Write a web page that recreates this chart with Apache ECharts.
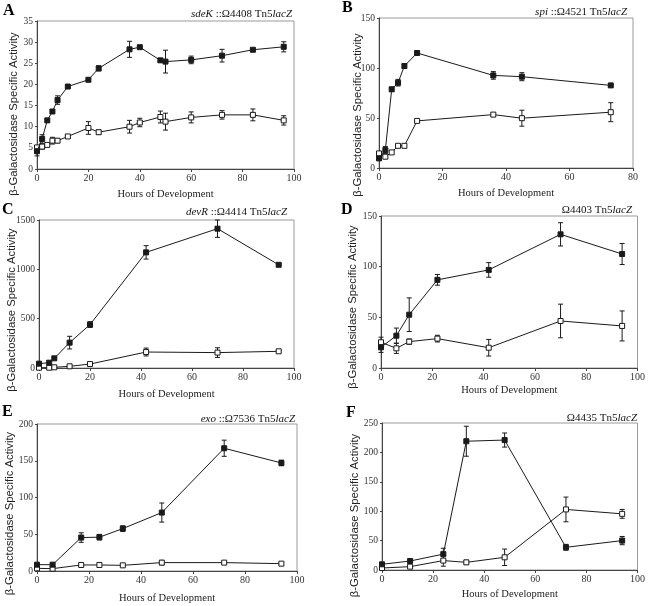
<!DOCTYPE html>
<html>
<head>
<meta charset="utf-8">
<script src="https://cdn.jsdelivr.net/npm/echarts@6/dist/echarts.min.js"></script>
<style>
  html, body { margin: 0; padding: 0; background: #fff; }
  #chart { width: 648px; height: 606px; }
</style>
</head>
<body>
<div id="chart"></div>
<script>
// Panel A  sdeK
const hoursA = [0, 2, 4, 6, 8, 12, 20, 24, 36, 40, 48, 50, 60, 72, 84, 96];
const filledA = [4.2, 7.1, 11.5, 13.6, 16.3, 19.5, 21.1, 23.8, 28.3, 28.8, 25.7, 25.4, 25.8, 26.8, 28.2, 28.9];
const filledErrA = [1.1, 1, 0.3, 0.4, 1, 0.3, 0.3, 0.6, 1.9, 0.3, 0.4, 2.7, 0.9, 1.5, 0.3, 1.2];
const openA = [5.1, 5.3, 5.7, 6.7, 6.7, 7.7, 9.7, 8.7, 10.0, 11.0, 12.3, 11.2, 12.2, 12.8, 12.8, 11.5];
const openErrA = [0.3, 0.6, 0.3, 0.8, 0.5, 0.3, 1.5, 0.5, 1.5, 1, 1.4, 2, 1.3, 1, 1.4, 1.1];

// Panel B  spi
const hoursB = [0, 2, 4, 6, 8, 12, 36, 45, 73];
const filledB = [9.6, 17.9, 78.7, 85.3, 102, 115, 92.6, 91.3, 82.6];
const filledErrB = [0, 3.5, 2, 3.3, 2, 1.8, 3.8, 4, 1];
const openB = [14.6, 11.3, 15.6, 22.2, 22.2, 47.1, 53.4, 49.8, 55.8];
const openErrB = [0, 0, 0, 0, 0, 0.5, 0.5, 8, 9.5];

// Panel C  devR
const hoursC = [0, 4, 6, 12, 20, 42, 70, 94];
const filledC = [44, 54, 98, 257, 440, 1172, 1412, 1046];
const filledErrC = [0, 0, 10, 64, 29, 68, 88, 10];
const openC = [3, 3, 7, 17, 40, 162, 156, 169];
const openErrC = [0, 0, 0, 0, 0, 40, 49, 10];

// Panel D  4403
const hoursD = [0, 6, 11, 22, 42, 70, 94];
const filledD = [20.4, 31.9, 52.6, 87, 96.8, 131.9, 112.5];
const filledErrD = [5, 7.5, 16.6, 5.3, 7.2, 11.5, 10.4];
const openD = [25.4, 19.4, 26, 29, 20, 46.4, 41.5];
const openErrD = [5, 5, 2.6, 3.3, 8.2, 16.6, 14.8];

// Panel E  exo
const hoursE = [0, 6, 17, 24, 33, 48, 72, 94];
const filledE = [8.6, 8.6, 45.5, 46, 57.7, 79.5, 167, 147];
const filledErrE = [0, 0, 6.5, 3.8, 3.8, 13, 11, 3.8];
const openE = [3.6, 3.2, 8.2, 8.2, 7.7, 11.4, 11.4, 10];
const openErrE = [0, 0, 0, 0, 0, 3, 1, 1];

// Panel F  4435
const hoursF = [0, 11, 24, 33, 48, 72, 94];
const filledF = [9.7, 15.3, 27, 219, 221, 38.6, 50];
const filledErrF = [0, 0, 10, 25.5, 12, 5, 7];
const openF = [3.4, 5.7, 16, 13, 21.6, 103, 95.5];
const openErrF = [0, 0, 9.5, 3.5, 14, 21, 7.5];

const letters = ['A', 'B', 'C', 'D', 'E', 'F'];
const subtitles = [
  '{i|sdeK} ::Ω4408 Tn5{i|lacZ}',
  '{i|spi} ::Ω4521 Tn5{i|lacZ}',
  '{i|devR} ::Ω4414 Tn5{i|lacZ}',
  'Ω4403 Tn5{i|lacZ}',
  '{i|exo} ::Ω7536 Tn5{i|lacZ}',
  'Ω4435 Tn5{i|lacZ}'
];
const yMax = [35, 150, 1500, 150, 200, 250];
const yStep = [5, 50, 500, 50, 50, 50];
const xMax = [100, 80, 100, 100, 100, 100];

const panels = [
  [hoursA, filledA, filledErrA, openA, openErrA],
  [hoursB, filledB, filledErrB, openB, openErrB],
  [hoursC, filledC, filledErrC, openC, openErrC],
  [hoursD, filledD, filledErrD, openD, openErrD],
  [hoursE, filledE, filledErrE, openE, openErrE],
  [hoursF, filledF, filledErrF, openF, openErrF]
];

// layout: grid box, letter pos, subtitle right/y, x-name gap, y-name x / y shift
const boxes = [
  { left: 37, top: 21, width: 257, height: 148, lx: 8, ly: 11, sx: 292, sy: 14, gap: 20, nx: 14, ny: 19 },
  { left: 379, top: 18, width: 254, height: 150, lx: 347, ly: 8, sx: 627, sy: 12, gap: 20, nx: 358, ny: 22 },
  { left: 39, top: 220, width: 255, height: 148, lx: 7, ly: 210, sx: 287, sy: 212, gap: 21, nx: 12, ny: 16 },
  { left: 381, top: 216, width: 257, height: 152, lx: 346, ly: 210, sx: 632, sy: 210, gap: 17, nx: 353, ny: 15 },
  { left: 37, top: 424, width: 260, height: 147, lx: 7, ly: 412, sx: 295, sy: 419, gap: 22, nx: 10, ny: 16 },
  { left: 382, top: 423, width: 258, height: 147, lx: 351, ly: 413, sx: 637, sy: 418, gap: 19, nx: 355, ny: 19 }
];

const serif = 'Liberation Serif';
const ink = '#1a1a1a';

const errorBars = (params, api) => {
  const x = api.value(0), y = api.value(1), e = api.value(2);
  if (!e) return null;
  const top = api.coord([x, y + e]);
  const bot = api.coord([x, y - e]);
  const hw = 2.5;
  const st = { stroke: ink, lineWidth: 1 };
  return {
    type: 'group',
    children: [
      { type: 'line', shape: { x1: top[0], y1: top[1], x2: bot[0], y2: bot[1] }, style: st },
      { type: 'line', shape: { x1: top[0] - hw, y1: top[1], x2: top[0] + hw, y2: top[1] }, style: st },
      { type: 'line', shape: { x1: bot[0] - hw, y1: bot[1], x2: bot[0] + hw, y2: bot[1] }, style: st }
    ]
  };
};

const grid = [], xAxis = [], yAxis = [], series = [], graphic = [];

panels.forEach((p, i) => {
  const b = boxes[i];
  const [hours, filled, filledErr, open, openErr] = p;
  grid.push({
    left: b.left, top: b.top, width: b.width, height: b.height,
    show: true, borderColor: '#9a9a9a', borderWidth: 1, backgroundColor: 'transparent'
  });
  xAxis.push({
    type: 'value', gridIndex: i, min: 0, max: xMax[i], interval: 20,
    name: 'Hours of Development', nameLocation: 'middle', nameGap: b.gap,
    nameTextStyle: { fontFamily: serif, fontSize: 10.5, color: '#222' },
    axisLine: { onZero: false, lineStyle: { color: '#444', width: 1 } },
    axisTick: { show: true, length: 3, lineStyle: { color: '#444' } },
    axisLabel: { fontFamily: serif, fontSize: 10, color: '#333', margin: 4 },
    splitLine: { show: false }
  });
  yAxis.push({
    type: 'value', gridIndex: i, min: 0, max: yMax[i], interval: yStep[i],
    axisLine: { show: true, lineStyle: { color: '#444', width: 1 } },
    axisTick: { show: true, length: 2, lineStyle: { color: '#444' } },
    axisLabel: { fontFamily: serif, fontSize: 9.5, color: '#333', margin: 4, formatter: v => String(v) },
    splitLine: { show: false }
  });
  const lineStyle = { color: ink, width: 1 };
  series.push({
    type: 'custom', xAxisIndex: i, yAxisIndex: i, renderItem: errorBars,
    encode: { x: 0, y: 1 }, z: 3, silent: true,
    data: hours.map((h, k) => [h, open[k], openErr[k]])
  });
  series.push({
    type: 'custom', xAxisIndex: i, yAxisIndex: i, renderItem: errorBars,
    encode: { x: 0, y: 1 }, z: 3, silent: true,
    data: hours.map((h, k) => [h, filled[k], filledErr[k]])
  });
  series.push({
    type: 'line', xAxisIndex: i, yAxisIndex: i, z: 4,
    data: hours.map((h, k) => [h, open[k]]),
    symbol: 'rect', symbolSize: 5, showAllSymbol: true,
    lineStyle, itemStyle: { color: '#fff', borderColor: ink, borderWidth: 1 }
  });
  series.push({
    type: 'line', xAxisIndex: i, yAxisIndex: i, z: 5,
    data: hours.map((h, k) => [h, filled[k]]),
    symbol: 'rect', symbolSize: 5, showAllSymbol: true,
    lineStyle, itemStyle: { color: ink, borderColor: ink, borderWidth: 1 }
  });

  graphic.push({
    type: 'text', left: b.lx - 5, top: b.ly - 8,
    style: { text: letters[i], font: 'bold 16px "Liberation Serif"', fill: '#000' }
  });
  graphic.push({
    type: 'text', x: b.sx, y: b.sy,
    style: {
      text: subtitles[i], align: 'right', verticalAlign: 'middle',
      font: '11px "Liberation Serif"', fill: '#111',
      rich: { i: { fontStyle: 'italic', fontFamily: serif, fontSize: 11 } }
    }
  });
  graphic.push({
    type: 'text', x: b.nx, y: b.top + b.height / 2 + b.ny, rotation: Math.PI / 2,
    style: {
      text: 'β-Galactosidase Specific Activity', align: 'center', verticalAlign: 'middle',
      font: '11.3px "Liberation Sans"', fill: '#222'
    }
  });
});

const chart = echarts.init(document.getElementById('chart'), null, { renderer: 'canvas' });
chart.setOption({
  backgroundColor: '#fff',
  animation: false,
  grid, xAxis, yAxis, series, graphic
});
</script>
</body>
</html>
